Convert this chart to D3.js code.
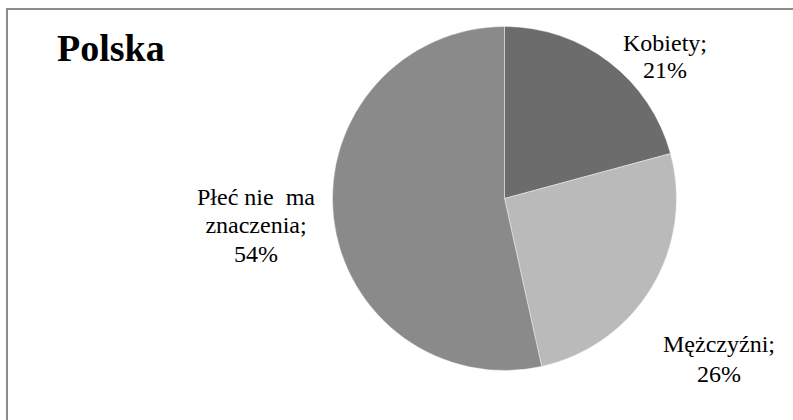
<!DOCTYPE html>
<html>
<head>
<meta charset="utf-8">
<script src="https://cdn.jsdelivr.net/npm/d3@7"></script>
</head>
<body style="margin:0;background:#fff">
<svg id="chart" width="793" height="420" style="display:block"></svg>
<script>
// Preferred gender, Poland
const title = "Polska";
const categories = ["Kobiety", "Mężczyźni", "Płeć nie ma znaczenia"];
const values = [21, 26, 54];
const labelLines = [
  ["Kobiety;", "21%"],
  ["Mężczyźni;", "26%"],
  ["Płeć nie\u00a0 ma", "znaczenia;", "54%"]
];
const colors = ["#6c6c6c", "#bababa", "#8a8a8a"];

const SERIF = "Times New Roman";
const W = 793, H = 420;
const svg = d3.select("#chart");

// chart frame (open on the right and bottom, cropped)
svg.append("path")
  .attr("d", `M7,${H + 2} L7,9 L${W + 2},9`)
  .attr("fill", "none")
  .attr("stroke", "#8c8c8c")
  .attr("stroke-width", 2);

// title
svg.append("text")
  .attr("x", 57)
  .attr("y", 61)
  .style("font-family", `"${SERIF}", monospace`)
  .style("font-size", "38px")
  .style("font-weight", "bold")
  .text(title);

// pie
const cx = 504.5, cy = 198.5, R = 172;
const color = d3.scaleOrdinal().domain(categories).range(colors);
const pie = d3.pie().sort(null).value(d => d.value);
const arc = d3.arc().innerRadius(0).outerRadius(R);
const data = categories.map((c, i) => ({ name: c, value: values[i], lines: labelLines[i] }));
const arcs = pie(data);

const g = svg.append("g").attr("transform", `translate(${cx},${cy})`);
g.selectAll("path.slice")
  .data(arcs)
  .join("path")
  .attr("class", "slice")
  .attr("d", arc)
  .attr("fill", d => color(d.data.name))
  .attr("stroke", "#ffffff")
  .attr("stroke-opacity", 0.4)
  .attr("stroke-width", 1);

// data labels, one text element per line, beside each slice
const labelAnchor = [
  { x: 665, y: 50.5, dy: 27.7 },
  { x: 719, y: 351.5, dy: 30.5 },
  { x: 256, y: 205, dy: 28.3 }
];
const lineData = arcs.flatMap((d, i) =>
  d.data.lines.map((t, j) => ({ t, x: labelAnchor[i].x, y: labelAnchor[i].y + j * labelAnchor[i].dy }))
);
svg.selectAll("text.lbl")
  .data(lineData)
  .join("text")
  .attr("class", "lbl")
  .attr("x", d => d.x)
  .attr("y", d => d.y)
  .attr("text-anchor", "middle")
  .style("font-family", `"${SERIF}", monospace`)
  .style("font-size", "24px")
  .text(d => d.t);
</script>
</body>
</html>
